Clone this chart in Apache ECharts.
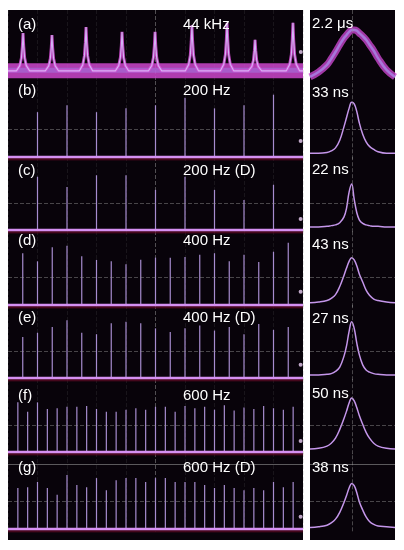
<!DOCTYPE html>
<html>
<head>
<meta charset="utf-8">
<script src="https://cdn.jsdelivr.net/npm/echarts@6.0.0/dist/echarts.min.js"></script>
<style>
html, body { margin: 0; padding: 0; background: #fff; }
#chart { width: 404px; height: 550px; }
</style>
</head>
<body>
<div id="chart"></div>
<script>
'use strict';

// panel texts
var rowLabels = ['(a)', '(b)', '(c)', '(d)', '(e)', '(f)', '(g)'];
var rateLabels = ['44 kHz', '200 Hz', '200 Hz (D)', '400 Hz', '400 Hz (D)', '600 Hz', '600 Hz (D)'];
var widthLabels = ['2.2 \u03bcs', '33 ns', '22 ns', '43 ns', '27 ns', '50 ns', '38 ns'];

// (a) 44 kHz train: peak times (us) and heights
var peakTimesA = [10.2, 29.8, 52.9, 77.3, 99.7, 124.7, 148.5, 167.5, 193.2];
var peakHeightsA = [62, 59, 72, 64, 64, 75, 79, 51, 79];

// pulse trains, times in ms over a 50 ms screen
var times200 = [5, 10, 15, 20, 25, 30, 35, 40, 45];
var times400 = [2.5, 5, 7.5, 10, 12.5, 15, 17.5, 20, 22.5, 25, 27.5, 30, 32.5, 35, 37.5, 40, 42.5, 45, 47.5];
var times600 = [1.67, 3.33, 5, 6.67, 8.33, 10, 11.67, 13.33, 15, 16.67, 18.33, 20, 21.67, 23.33, 25,
    26.67, 28.33, 30, 31.67, 33.33, 35, 36.67, 38.33, 40, 41.67, 43.33, 45, 46.67, 48.33];

var pulses200 = [59, 68, 59, 64, 68, 78, 64, 68, 82];
var pulses200D = [73, 59, 75, 75, 55, 73, 55, 41, 62];
var pulses400 = [70, 59, 78, 80, 66, 61, 59, 55, 61, 64, 64, 65, 68, 70, 59, 68, 58, 72, 84];
var pulses400D = [56, 62, 70, 79, 62, 60, 75, 77, 75, 68, 63, 68, 72, 65, 70, 60, 74, 66, 70];
var pulses600 = [68, 55, 68, 59, 60, 62, 62, 63, 59, 55, 55, 58, 60, 58, 62, 62, 55, 63, 60, 62,
    58, 64, 57, 61, 59, 63, 60, 58, 62];
var pulses600D = [54, 55, 62, 54, 45, 71, 58, 55, 67, 51, 64, 67, 67, 62, 67, 67, 62, 62, 62, 58,
    54, 58, 54, 51, 54, 51, 62, 55, 62];

// single pulse shapes (right column), sampled at shapeT
var shapeT = [0, 10, 20, 25, 30, 35, 40, 43, 46, 49, 52, 55, 58, 62, 66, 70, 75, 80, 90, 100];
var shapeA = [-10, -2, 10, 20, 31, 43, 54, 59, 64, 67, 67, 66, 62, 57, 51, 43, 33, 21, 1.5, -10];
var shapeB = [5, 5, 6, 8, 12, 22, 40, 52, 64, 72, 70, 60, 45, 30, 20, 14, 10, 7, 5, 5];
var shapeC = [4, 4, 5, 6, 7, 10, 18, 30, 52, 63, 42, 24, 14, 9, 7, 6, 5, 5, 4, 4];
var shapeD = [3, 4, 6, 9, 14, 25, 40, 50, 59, 64, 61, 53, 42, 31, 20, 13, 8, 6, 4, 3];
var shapeE = [4, 4, 5, 6, 9, 15, 30, 44, 64, 77, 68, 48, 32, 18, 11, 8, 6, 5, 4, 4];
var shapeF = [4, 5, 8, 12, 19, 31, 46, 56, 67, 74, 70, 61, 50, 38, 27, 19, 12, 8, 5, 4];
var shapeG = [2, 3, 5, 8, 13, 22, 35, 44, 54, 60, 57, 48, 36, 25, 16, 10, 6, 4, 3, 2];

// trigger level markers at right edge of the trains
var triggerLevels = [31, 21, 15, 18, 18, 15, 16];

var trains = [
    [times200, pulses200], [times200, pulses200D],
    [times400, pulses400], [times400, pulses400D],
    [times600, pulses600], [times600, pulses600D]
];
var shapes = [shapeA, shapeB, shapeC, shapeD, shapeE, shapeF, shapeG];

// layout
var rowTops = [10, 81, 157, 231, 305, 379, 453];
var rowHeights = [70, 78.3, 75.2, 76.2, 75.2, 75.2, 78.3];
var labelY = [25, 91, 171, 241, 318, 396, 468];
var widthLabelY = [24, 93, 170, 245, 319, 394, 468];

var traceColor = '#d590f2';
var pulseColor = '#a68ccf';
var gridDash = 'rgba(150,150,150,0.45)';
var splitColors = [];
for (var k = 0; k <= 10; k++) {
    splitColors.push(k === 5 ? 'rgba(170,170,170,0.45)' : 'rgba(120,120,120,0.16)');
}

var grids = [], xAxes = [], yAxes = [], series = [];

var hidden = {
    axisLine: {show: false}, axisTick: {show: false}, axisLabel: {show: false}
};

rowTops.forEach(function (top, i) {
    grids.push({left: 8, width: 295, top: top, height: rowHeights[i], show: false});
    xAxes.push(Object.assign({
        gridIndex: i, type: 'value', min: 0, max: i === 0 ? 200 : 50, interval: i === 0 ? 20 : 5,
        splitLine: {show: true, lineStyle: {color: splitColors, type: 'dashed', width: 1}}
    }, hidden));
    yAxes.push(Object.assign({
        gridIndex: i, type: 'value', min: i === 0 ? -15 : -3, max: 100, splitLine: {show: false}
    }, hidden));
});
rowTops.forEach(function (top, i) {
    grids.push({left: 310, width: 85, top: top, height: rowHeights[i], show: false});
    xAxes.push(Object.assign({
        gridIndex: 7 + i, type: 'value', min: 0, max: 100, splitLine: {show: false}
    }, hidden));
    yAxes.push(Object.assign({
        gridIndex: 7 + i, type: 'value', min: i === 0 ? -15 : -3, max: 100, splitLine: {show: false}
    }, hidden));
});

// (a) noisy band with narrow cusp peaks
var cuspShape = [[-4.5, 0], [-2.2, 0.14], [-1.1, 0.34], [-0.45, 0.65], [0, 1], [0.45, 0.65], [1.1, 0.34], [2.2, 0.14], [4.5, 0]];
var cuspPts = [[0, 0]];
peakTimesA.forEach(function (t, i) {
    cuspShape.forEach(function (s) {
        cuspPts.push([t + s[0], peakHeightsA[i] * s[1]]);
    });
});
cuspPts.push([200, 0]);

series.push({
    type: 'line', xAxisIndex: 0, yAxisIndex: 0, data: [[0, 0], [200, 0]], symbol: 'none', silent: true,
    lineStyle: {color: 'rgba(205,70,205,0.85)', width: 15}
});
series.push({
    type: 'line', xAxisIndex: 0, yAxisIndex: 0, data: [[0, 1], [200, 1]], symbol: 'none', silent: true,
    lineStyle: {color: 'rgba(160,130,235,0.45)', width: 5}
});
series.push({
    type: 'line', xAxisIndex: 0, yAxisIndex: 0, data: cuspPts, symbol: 'none', silent: true,
    lineStyle: {color: 'rgba(215,80,215,0.85)', width: 3}
});
series.push({
    type: 'line', xAxisIndex: 0, yAxisIndex: 0, data: cuspPts, symbol: 'none', silent: true,
    lineStyle: {color: '#d4b4f5', width: 1.1}
});

// (b)-(g) pulse trains
trains.forEach(function (tr, j) {
    var i = j + 1;
    var marks = [{yAxis: 37}];
    if (i === 6) {
        marks.push({yAxis: 85, lineStyle: {type: 'solid', color: 'rgba(160,160,160,0.55)'}});
    }
    series.push({
        type: 'bar', xAxisIndex: i, yAxisIndex: i, barWidth: 1.2, silent: true,
        itemStyle: {color: pulseColor},
        data: tr[0].map(function (t, n) { return [t, tr[1][n]]; })
    });
    series.push({
        type: 'line', xAxisIndex: i, yAxisIndex: i, data: [[0, -2.6], [50, -2.6]], symbol: 'none', silent: true,
        lineStyle: {color: 'rgba(95,10,35,0.7)', width: 3}
    });
    series.push({
        type: 'line', xAxisIndex: i, yAxisIndex: i, data: [[0, 0], [50, 0]], symbol: 'none', silent: true,
        lineStyle: {color: traceColor, width: 2.6},
        markLine: {
            silent: true, symbol: 'none', label: {show: false},
            lineStyle: {color: gridDash, type: 'dashed', width: 1},
            data: marks
        }
    });
});

// trigger markers
triggerLevels.forEach(function (v, i) {
    series.push({
        type: 'scatter', xAxisIndex: i, yAxisIndex: i, silent: true, symbolSize: 4,
        itemStyle: {color: '#ecd0f5'},
        data: [[i === 0 ? 198.5 : 49.6, v]]
    });
});

// right column pulse shapes
shapes.forEach(function (sh, i) {
    var pts = shapeT.map(function (t, n) { return [t, sh[n]]; });
    var marks = [{xAxis: 49.5}];
    if (i > 0) marks.push({yAxis: 37});
    if (i === 6) marks.push({yAxis: 85, lineStyle: {type: 'solid', color: 'rgba(160,160,160,0.55)'}});
    if (i === 0) {
        series.push({
            type: 'line', xAxisIndex: 7, yAxisIndex: 7, data: pts, smooth: 0.4, symbol: 'none', silent: true,
            lineStyle: {color: 'rgba(200,70,205,0.8)', width: 7}
        });
    }
    series.push({
        type: 'line', xAxisIndex: 7 + i, yAxisIndex: 7 + i, data: pts, smooth: 0.4, symbol: 'none', silent: true,
        lineStyle: {color: i === 0 ? 'rgba(170,140,235,0.75)' : '#c496ea', width: i === 0 ? 2.5 : 1.5},
        markLine: {
            silent: true, symbol: 'none', label: {show: false},
            lineStyle: {color: gridDash, type: 'dashed', width: 1},
            data: marks
        }
    });
});

// panels and texts
var font = '15px "Liberation Sans", Arial, sans-serif';
var graphics = [
    {type: 'rect', z: -10, silent: true, shape: {x: 8, y: 10, width: 295, height: 530}, style: {fill: '#08030a'}},
    {type: 'rect', z: -10, silent: true, shape: {x: 310, y: 10, width: 85, height: 530}, style: {fill: '#08030a'}}
];
rowLabels.forEach(function (lab, i) {
    graphics.push({type: 'text', z: 50, x: 18, y: labelY[i], silent: true,
        style: {text: lab, fill: '#fff', font: font, verticalAlign: 'middle'}});
    graphics.push({type: 'text', z: 50, x: 183, y: labelY[i], silent: true,
        style: {text: rateLabels[i], fill: '#fff', font: font, verticalAlign: 'middle'}});
    graphics.push({type: 'text', z: 50, x: 312, y: widthLabelY[i], silent: true,
        style: {text: widthLabels[i], fill: '#fff', font: font, verticalAlign: 'middle'}});
});

var myChart = echarts.init(document.getElementById('chart'), null, {renderer: 'canvas'});
myChart.setOption({
    backgroundColor: '#fff',
    animation: false,
    grid: grids,
    xAxis: xAxes,
    yAxis: yAxes,
    series: series,
    graphic: graphics
});
</script>
</body>
</html>
